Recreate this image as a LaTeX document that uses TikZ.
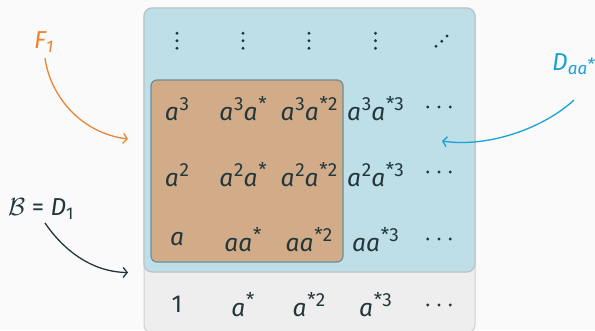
\documentclass[tikz,border=0pt]{standalone}
\usepackage{fontspec}
\setmainfont{Fira Sans}
\usetikzlibrary{arrows.meta}
\definecolor{bgc}{HTML}{FAFAFA}
\definecolor{txt}{HTML}{23373B}
\definecolor{grayfill}{HTML}{EEEEEE}
\definecolor{grayline}{HTML}{D0D0D0}
\definecolor{bluefill}{HTML}{BEDEE8}
\definecolor{blueline}{HTML}{BDC3C6}
\definecolor{orfill}{HTML}{D2AC89}
\definecolor{orline}{HTML}{6E8D99}
\definecolor{orarrow}{HTML}{EB8533}
\definecolor{cyarrow}{HTML}{17A2D6}
\newcommand\Sp[1]{\kern0.8pt\raisebox{10pt}{\fontsize{19}{20}\selectfont\upshape #1}}
\newcommand\Sb[1]{\raisebox{-4.5pt}{\fontsize{17}{18}\selectfont #1}}
\begin{document}
\begin{tikzpicture}[x=1pt,y=-1pt,
  cell/.style={anchor=center,text=txt,inner sep=0pt,font=\fontsize{24.5}{28}\selectfont\itshape},
  lbl/.style={anchor=base west,inner sep=0pt,font=\fontsize{24.5}{28}\selectfont},
  arr/.style={line width=1.3pt,-{Straight Barb[length=4pt,width=10pt]}},
  dotc/.style={fill=txt}]
\useasboundingbox (0,0) rectangle (595,330);
\fill[bgc] (0,0) rectangle (595,330);
% boxes
\draw[draw=grayline,fill=grayfill,line width=1pt,rounded corners=8pt] (144,8) rectangle (475,333);
\draw[draw=blueline,fill=bluefill,line width=1.2pt,rounded corners=8pt] (144,8) rectangle (475,272);
\draw[draw=orline,fill=orfill,line width=1.2pt,rounded corners=6pt] (151,80) rectangle (343,262);
% vertical dots
\foreach \x in {177,243,309,375.5}{
  \foreach \y in {33.3,40.8,48.3}{\fill[dotc] (\x,\y) circle (1.6pt);}
}
% anti-diagonal dots
\fill[dotc] (436,46.3) circle (1.6pt);
\fill[dotc] (441.7,41.3) circle (1.6pt);
\fill[dotc] (447,36) circle (1.6pt);
% horizontal dots
\foreach \y in {107,172,239,305}{
  \foreach \x in {427.7,439,450.3}{\fill[dotc] (\x,\y) circle (1.6pt);}
}
% row a^3
\node[cell] (c30) at (177,109) {a\Sp{3}};
\node[cell] (c31) at (243,109) {a\Sp{3}a\Sp{*}};
\node[cell] (c32) at (309,109) {a\Sp{3}a\Sp{*2}};
\node[cell] (c33) at (375.5,109) {a\Sp{3}a\Sp{*3}};
% row a^2
\node[cell] (c20) at (177,175) {a\Sp{2}};
\node[cell] (c21) at (243,175) {a\Sp{2}a\Sp{*}};
\node[cell] (c22) at (309,175) {a\Sp{2}a\Sp{*2}};
\node[cell] (c23) at (375.5,175) {a\Sp{2}a\Sp{*3}};
% row a
\node[cell] (c10) at (177,239.5) {a};
\node[cell] (c11) at (243,239.5) {aa\Sp{*}};
\node[cell] (c12) at (309,239.5) {aa\Sp{*2}};
\node[cell] (c13) at (375.5,239.5) {aa\Sp{*3}};
% row 1
\node[cell,font=\fontsize{24.5}{28}\selectfont] (c00) at (177,304.5) {1};
\node[cell] (c01) at (243,305) {a\Sp{*}};
\node[cell] (c02) at (309,305) {a\Sp{*2}};
\node[cell] (c03) at (375.5,305) {a\Sp{*3}};
% labels
\node[lbl,text=orarrow] (F) at (34,48) {\itshape F\Sb{1}};
\node[lbl,text=cyarrow] (D) at (552,70) {\itshape D\Sb{aa\raisebox{4.5pt}{*}}};
\node[lbl,text=txt] (B) at (8,215) {$\mathcal{B}$ = \itshape D\Sb{\upshape 1}};
% arrow endpoints
\coordinate (fs) at (45,58);
\coordinate (fe) at (128,139);
\coordinate (ds) at (574,100);
\coordinate (de) at (442,141);
\coordinate (bs) at (45,223);
\coordinate (be) at (128,272.5);
\draw[arr,orarrow] (fs) .. controls (50,95) and (80,133) .. (fe);
\draw[arr,cyarrow] (ds) .. controls (545,127) and (490,148) .. (de);
\draw[arr,txt] (bs) .. controls (62,248) and (90,272) .. (be);
\end{tikzpicture}
\end{document}
